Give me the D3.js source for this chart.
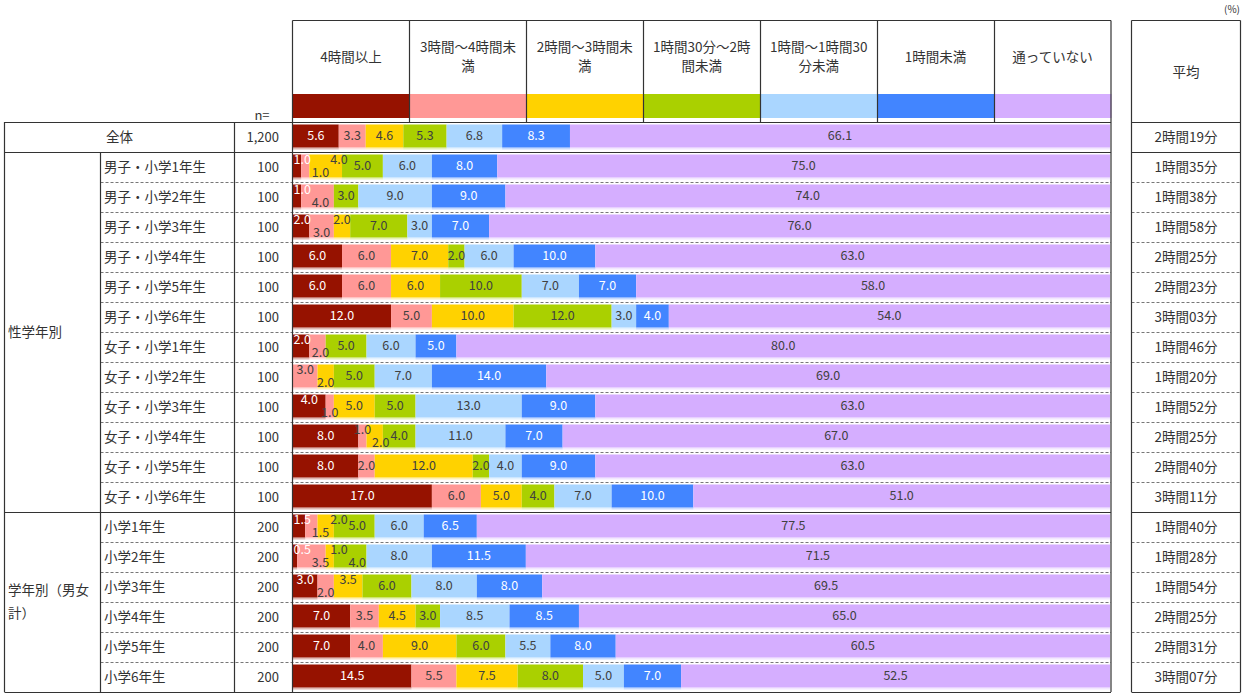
<!DOCTYPE html>
<html>
<head>
<meta charset="utf-8">
<script src="https://cdn.jsdelivr.net/npm/d3@7"></script>
<style>
    body { margin: 0; background: #fff; }
    svg text { font-family: "Noto Sans CJK JP", "Noto Sans", sans-serif; fill: #333; }
</style>
</head>
<body>
<div id="main"></div>
<script>
// ---- data ----
const categories = ["4時間以上", "3時間～4時間未満", "2時間～3時間未満", "1時間30分～2時間未満",
    "1時間～1時間30分未満", "1時間未満", "通っていない"];

const rowLabels = ["全体",
    "男子・小学1年生", "男子・小学2年生", "男子・小学3年生", "男子・小学4年生", "男子・小学5年生", "男子・小学6年生",
    "女子・小学1年生", "女子・小学2年生", "女子・小学3年生", "女子・小学4年生", "女子・小学5年生", "女子・小学6年生",
    "小学1年生", "小学2年生", "小学3年生", "小学4年生", "小学5年生", "小学6年生"];

const rowGroup = [null,
    "性学年別", "性学年別", "性学年別", "性学年別", "性学年別", "性学年別",
    "性学年別", "性学年別", "性学年別", "性学年別", "性学年別", "性学年別",
    "学年別（男女計）", "学年別（男女計）", "学年別（男女計）", "学年別（男女計）", "学年別（男女計）", "学年別（男女計）"];

const sampleN = [1200, 100, 100, 100, 100, 100, 100, 100, 100, 100, 100, 100, 100, 200, 200, 200, 200, 200, 200];

const shares = [
    [5.6, 3.3, 4.6, 5.3, 6.8, 8.3, 66.1],
    [1.0, 1.0, 4.0, 5.0, 6.0, 8.0, 75.0],
    [1.0, 4.0, 0, 3.0, 9.0, 9.0, 74.0],
    [2.0, 3.0, 2.0, 7.0, 3.0, 7.0, 76.0],
    [6.0, 6.0, 7.0, 2.0, 6.0, 10.0, 63.0],
    [6.0, 6.0, 6.0, 10.0, 7.0, 7.0, 58.0],
    [12.0, 5.0, 10.0, 12.0, 3.0, 4.0, 54.0],
    [2.0, 2.0, 0, 5.0, 6.0, 5.0, 80.0],
    [0, 3.0, 2.0, 5.0, 7.0, 14.0, 69.0],
    [4.0, 1.0, 5.0, 5.0, 13.0, 9.0, 63.0],
    [8.0, 1.0, 2.0, 4.0, 11.0, 7.0, 67.0],
    [8.0, 2.0, 12.0, 2.0, 4.0, 9.0, 63.0],
    [17.0, 6.0, 5.0, 4.0, 7.0, 10.0, 51.0],
    [1.5, 1.5, 2.0, 5.0, 6.0, 6.5, 77.5],
    [0.5, 3.5, 1.0, 4.0, 8.0, 11.5, 71.5],
    [3.0, 2.0, 3.5, 6.0, 8.0, 8.0, 69.5],
    [7.0, 3.5, 4.5, 3.0, 8.5, 8.5, 65.0],
    [7.0, 4.0, 9.0, 6.0, 5.5, 8.0, 60.5],
    [14.5, 5.5, 7.5, 8.0, 5.0, 7.0, 52.5]
];

const averages = ["2時間19分",
    "1時間35分", "1時間38分", "1時間58分", "2時間25分", "2時間23分", "3時間03分",
    "1時間46分", "1時間20分", "1時間52分", "2時間25分", "2時間40分", "3時間11分",
    "1時間40分", "1時間28分", "1時間54分", "2時間25分", "2時間31分", "3時間07分"];

const colors = ["#961200", "#ff9896", "#ffd200", "#aad000", "#aad6ff", "#4285ff", "#d5aeff"];
const lightText = [true, false, false, false, false, true, false];

const ctx = {
    WIDTH: 1245,
    HEIGHT: 697,
    HEAD_TOP: 20.5,
    TABLE_TOP: 122,
    ROW_H: 30,
    LEFT: 4.5,
    GROUP_R: 100.5,
    LABEL_R: 234.5,
    BAR_L: 292.5,
    BAR_R: 1111,
    AVG_L: 1131.5,
    AVG_R: 1240.5,
    CROWD: 23,
    VAL_FONT: 12.5,
};

function wrapText(sel, str, maxWidth, lineH, fontSize) {
    // greedy char-by-char wrap for CJK strings
    let lines = [], cur = "";
    const probe = sel.append("tspan");
    for (const ch of str) {
        probe.text(cur + ch);
        if (cur && probe.node().getComputedTextLength() > maxWidth) {
            lines.push(cur);
            cur = ch;
        } else {
            cur += ch;
        }
    }
    lines.push(cur);
    probe.remove();
    const off = -(lines.length - 1) / 2 * lineH + fontSize * 0.35;
    lines.forEach((l, i) => {
        sel.append("tspan")
            .attr("x", sel.attr("x"))
            .attr("dy", i === 0 ? off : lineH)
            .text(l);
    });
}

function labelLevels(row, x) {
    let acc = 0;
    const segs = [];
    row.forEach((v, k) => {
        if (v > 0) segs.push({ k: k, v: v, x0: acc, x1: acc + v });
        acc += v;
    });
    segs.forEach(s => { s.cx = x((s.x0 + s.x1) / 2); s.level = 0; });
    // labels that crowd their neighbour get staggered up / down
    let start = 0;
    for (let i = 1; i <= segs.length; i++) {
        const crowded = i < segs.length && segs[i].cx - segs[i - 1].cx < ctx.CROWD;
        if (!crowded) {
            if (i - start > 1) {
                for (let j = start; j < i; j++) segs[j].level = (j - start) % 2 === 0 ? -1 : 1;
            }
            start = i;
        }
    }
    return segs;
}

function createChart() {
    const svg = d3.select("#main").append("svg")
        .attr("width", ctx.WIDTH)
        .attr("height", ctx.HEIGHT);

    const x = d3.scaleLinear().domain([0, 100]).range([ctx.BAR_L + 0.5, ctx.BAR_R - 1]);
    const y = d3.scaleBand()
        .domain(d3.range(rowLabels.length))
        .range([ctx.TABLE_TOP, ctx.TABLE_TOP + ctx.ROW_H * rowLabels.length]);
    const bottom = ctx.TABLE_TOP + ctx.ROW_H * rowLabels.length;

    const colX = d3.scaleBand()
        .domain(d3.range(categories.length))
        .range([ctx.BAR_L, ctx.BAR_R]);

    // ---- header ----
    const head = svg.append("g");
    head.selectAll("rect.legend")
        .data(categories)
        .enter()
        .append("rect")
        .attr("x", (d, i) => colX(i) + 0.5)
        .attr("y", 94)
        .attr("width", colX.bandwidth())
        .attr("height", 24)
        .attr("fill", (d, i) => colors[i]);

    head.selectAll("text.cat")
        .data(categories)
        .enter()
        .append("text")
        .attr("x", (d, i) => colX(i) + colX.bandwidth() / 2)
        .attr("y", 57)
        .attr("text-anchor", "middle")
        .style("font-size", "13.5px")
        .each(function (d) { wrapText(d3.select(this), d, 104, 19, 13.5); });

    svg.append("text").attr("x", 262).attr("y", 115).attr("dy", "0.35em")
        .attr("text-anchor", "middle").style("font-size", "13px").text("n=");
    svg.append("text").attr("x", 1232).attr("y", 9).attr("dy", "0.35em")
        .attr("text-anchor", "middle").style("font-size", "10px").text("(%)");
    svg.append("text").attr("x", (ctx.AVG_L + ctx.AVG_R) / 2).attr("y", 72).attr("dy", "0.35em")
        .attr("text-anchor", "middle").style("font-size", "13.5px").text("平均");

    // ---- bars ----
    const rows = svg.selectAll("g.row")
        .data(shares)
        .enter()
        .append("g")
        .attr("class", "row")
        .attr("transform", (d, i) => `translate(0,${y(i)})`);

    rows.each(function (row) {
        const g = d3.select(this);
        const segs = labelLevels(row, x);
        g.selectAll("rect.seg")
            .data(segs)
            .enter()
            .append("rect")
            .attr("x", s => x(s.x0))
            .attr("y", 2.5)
            .attr("width", s => x(s.x1) - x(s.x0))
            .attr("height", 23)
            .attr("fill", s => colors[s.k]);
        g.selectAll("rect.shade")
            .data(segs)
            .enter()
            .append("rect")
            .attr("x", s => x(s.x0))
            .attr("y", 25.5)
            .attr("width", s => x(s.x1) - x(s.x0))
            .attr("height", 2)
            .attr("fill", s => colors[s.k])
            .attr("opacity", 0.3);

        let prevRight = -Infinity;
        g.selectAll("text.val")
            .data(segs)
            .enter()
            .append("text")
            .attr("x", s => s.cx)
            .attr("y", s => 14 + (s.level < 0 ? -6 : s.level > 0 ? 7 : 0))
            .attr("dy", "0.35em")
            .attr("text-anchor", "middle")
            .style("font-size", ctx.VAL_FONT + "px")
            .style("fill", s => lightText[s.k] ? "#fff" : "#404040")
            .text(s => d3.format(".1f")(s.v))
            .each(function (s) {
                // keep inside the bar area and clear of the previous label
                const w = this.getComputedTextLength();
                let cx = Math.max(s.cx, ctx.BAR_L + 1 + w / 2, prevRight + 1 + w / 2);
                d3.select(this).attr("x", cx);
                prevRight = cx + w / 2;
            });
    });

    // ---- left table text ----
    const cy = i => y(i) + ctx.ROW_H / 2;
    svg.selectAll("text.rowlab")
        .data(rowLabels)
        .enter()
        .append("text")
        .attr("x", (d, i) => rowGroup[i] ? ctx.GROUP_R + 3.5 : (ctx.LEFT + ctx.LABEL_R) / 2)
        .attr("y", (d, i) => cy(i))
        .attr("dy", "0.35em")
        .attr("text-anchor", (d, i) => rowGroup[i] ? "start" : "middle")
        .style("font-size", "13.5px")
        .text(d => d);

    svg.selectAll("text.n")
        .data(sampleN)
        .enter()
        .append("text")
        .attr("x", 279)
        .attr("y", (d, i) => cy(i))
        .attr("dy", "0.35em")
        .attr("text-anchor", "end")
        .style("font-size", "13px")
        .text(d => d3.format(",")(d));

    svg.selectAll("text.avg")
        .data(averages)
        .enter()
        .append("text")
        .attr("x", (ctx.AVG_L + ctx.AVG_R) / 2)
        .attr("y", (d, i) => cy(i))
        .attr("dy", "0.35em")
        .attr("text-anchor", "middle")
        .style("font-size", "13.5px")
        .text(d => d);

    // group spans
    const groups = [];
    rowGroup.forEach((gname, i) => {
        if (!gname) return;
        const last = groups[groups.length - 1];
        if (last && last.name === gname) last.end = i;
        else groups.push({ name: gname, start: i, end: i });
    });
    svg.selectAll("text.group")
        .data(groups)
        .enter()
        .append("text")
        .attr("x", ctx.LEFT + 3.5)
        .attr("y", d => (y(d.start) + y(d.end) + ctx.ROW_H) / 2)
        .style("font-size", "13.5px")
        .each(function (d) { wrapText(d3.select(this), d.name, ctx.GROUP_R - ctx.LEFT - 6, 23, 13.5); });

    // ---- grid lines ----
    const lines = svg.append("g").attr("stroke", "#333").attr("stroke-width", 1.2).attr("fill", "none");
    const hline = (x1, x2, yy, dashed) => lines.append("line")
        .attr("x1", x1).attr("x2", x2).attr("y1", yy).attr("y2", yy)
        .attr("stroke", dashed ? "#777" : "#333")
        .attr("stroke-width", dashed ? 1 : 1.2)
        .attr("stroke-dasharray", dashed ? "3,2" : null);
    const vline = (xx, y1, y2) => lines.append("line")
        .attr("x1", xx).attr("x2", xx).attr("y1", y1).attr("y2", y2);

    hline(ctx.BAR_L, ctx.BAR_R, ctx.HEAD_TOP, false);
    hline(ctx.AVG_L, ctx.AVG_R, ctx.HEAD_TOP, false);
    d3.range(rowLabels.length + 1).forEach(i => {
        const yy = i < rowLabels.length ? y(i) : bottom;
        const solid = i === 0 || i === rowLabels.length || rowGroup[i] !== rowGroup[i - 1];
        const yl = Math.round(yy) + 0.5;
        if (solid) {
            hline(ctx.LEFT, ctx.BAR_R, yl, false);
            hline(ctx.AVG_L, ctx.AVG_R, yl, false);
        } else {
            hline(ctx.GROUP_R, ctx.BAR_R, yl, true);
            hline(ctx.AVG_L, ctx.AVG_R, yl, true);
        }
    });
    vline(ctx.LEFT, ctx.TABLE_TOP, bottom);
    vline(ctx.GROUP_R, y(1), bottom);
    vline(ctx.LABEL_R, ctx.TABLE_TOP, bottom);
    vline(ctx.BAR_L, ctx.HEAD_TOP, bottom);
    vline(ctx.BAR_R, ctx.HEAD_TOP, bottom);
    d3.range(1, categories.length).forEach(i => vline(Math.round(colX(i)) + 0.5, ctx.HEAD_TOP, ctx.TABLE_TOP));
    vline(ctx.AVG_L, ctx.HEAD_TOP, bottom);
    vline(ctx.AVG_R, ctx.HEAD_TOP, bottom);
}

createChart();
</script>
</body>
</html>
